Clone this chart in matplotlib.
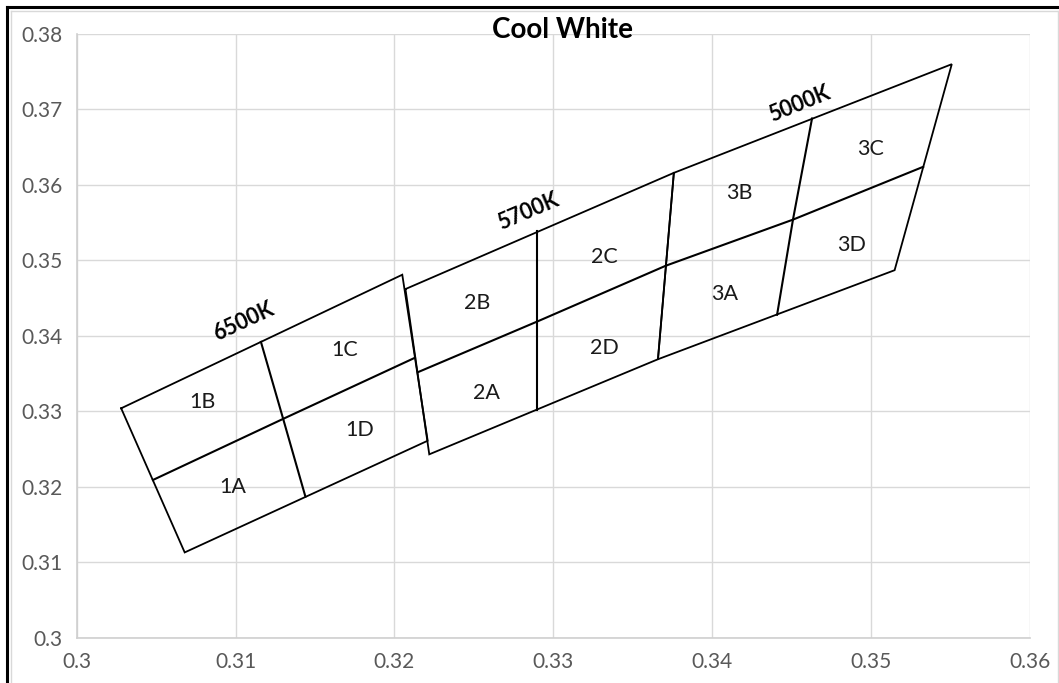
import matplotlib
matplotlib.use("Agg")
import matplotlib.pyplot as plt
from matplotlib.lines import Line2D

plt.rcParams['font.family'] = ['Lato', 'DejaVu Sans']

# ---- data ----
title = "Cool White"
xticks = [0.30, 0.31, 0.32, 0.33, 0.34, 0.35, 0.36]
xtick_labels = ["0.3", "0.31", "0.32", "0.33", "0.34", "0.35", "0.36"]
yticks = [0.30, 0.31, 0.32, 0.33, 0.34, 0.35, 0.36, 0.37, 0.38]
ytick_labels = ["0.3", "0.31", "0.32", "0.33", "0.34", "0.35", "0.36", "0.37", "0.38"]

# outline corners of each CCT quadrangle (TL, TR, BR, BL)
q6500_x = [0.3028, 0.3205, 0.3221, 0.3068]
q6500_y = [0.3304, 0.3481, 0.3261, 0.3113]
q5700_x = [0.3207, 0.3376, 0.3366, 0.3222]
q5700_y = [0.3462, 0.3616, 0.3369, 0.3243]
q5000_x = [0.3376, 0.3551, 0.3515, 0.3366]
q5000_y = [0.3616, 0.3760, 0.3487, 0.3369]

# divider lines (side midpoint -> centre -> opposite side midpoint)
d6500_long_x = [0.3048, 0.3130, 0.3213]
d6500_long_y = [0.3209, 0.3290, 0.3371]
d6500_short_x = [0.3116, 0.3130, 0.3144]
d6500_short_y = [0.3392, 0.3290, 0.3187]
d5700_long_x = [0.3215, 0.3290, 0.3371]
d5700_long_y = [0.3352, 0.3419, 0.3493]
d5700_short_x = [0.3290, 0.3290, 0.3290]
d5700_short_y = [0.3539, 0.3419, 0.3302]
d5000_long_x = [0.3371, 0.3451, 0.3533]
d5000_long_y = [0.3493, 0.3554, 0.3624]
d5000_short_x = [0.3463, 0.3451, 0.3441]
d5000_short_y = [0.3688, 0.3554, 0.3428]

# bin labels
bin_names = ["1B", "1A", "1C", "1D", "2B", "2A", "2C", "2D", "3B", "3A", "3C", "3D"]
bin_x = [0.3079, 0.3098, 0.3169, 0.3178, 0.3252, 0.3258, 0.3332, 0.3332, 0.3417, 0.3408, 0.3500, 0.3488]
bin_y = [0.3313, 0.3200, 0.3381, 0.3275, 0.3443, 0.3324, 0.3505, 0.3384, 0.3589, 0.3455, 0.3648, 0.3521]

# CCT labels
cct_names = ["6500K", "5700K", "5000K"]
cct_x = [0.3105, 0.3284, 0.3455]
cct_y = [0.3419, 0.3565, 0.3708]
cct_rot = [25, 23, 22]

W, H = 1059, 683
fig = plt.figure(figsize=(W / 100, H / 100), dpi=100)
fig.patch.set_facecolor('white')

ax_l, ax_r, ax_t, ax_b = 76.7, 1029.6, 34.0, 637.7
ax = fig.add_axes([ax_l / W, 1 - ax_b / H, (ax_r - ax_l) / W, (ax_b - ax_t) / H])
ax.set_xlim(xticks[0], xticks[-1])
ax.set_ylim(yticks[0], yticks[-1])
ax.set_xticks(xticks)
ax.set_xticklabels(xtick_labels)
ax.set_yticks(yticks)
ax.set_yticklabels(ytick_labels)
ax.grid(True, color='#d9d9d9', lw=1.0)
ax.set_axisbelow(True)
for s in ['top', 'right']:
    ax.spines[s].set_visible(False)
for s in ['left', 'bottom']:
    ax.spines[s].set_color('#cfcfcf')
    ax.spines[s].set_linewidth(1.2)
ax.tick_params(axis='both', length=0, labelsize=15, colors='#595959')
ax.tick_params(axis='x', pad=10)
ax.tick_params(axis='y', pad=10)

lw_out = 1.3
for qx, qy in [(q6500_x, q6500_y), (q5700_x, q5700_y), (q5000_x, q5000_y)]:
    ax.plot(qx + qx[:1], qy + qy[:1], color='black', lw=lw_out, solid_joinstyle='miter')

lw_in = 1.5
for dx, dy in [(d6500_long_x, d6500_long_y), (d6500_short_x, d6500_short_y),
               (d5700_long_x, d5700_long_y), (d5700_short_x, d5700_short_y),
               (d5000_long_x, d5000_long_y), (d5000_short_x, d5000_short_y)]:
    ax.plot(dx, dy, color='black', lw=lw_in)

for n, x, y in zip(bin_names, bin_x, bin_y):
    ax.text(x, y, n, ha='center', va='center', fontsize=15.5, color='#1a1a1a')

for n, x, y, r in zip(cct_names, cct_x, cct_y, cct_rot):
    ax.text(x, y, n, ha='center', va='center', fontsize=15.5, fontweight='bold',
            color='black', rotation=r, rotation_mode='anchor')

fig.text(563 / W, 1 - 30.5 / H, title, ha='center', va='center',
         fontsize=20, fontweight='bold', color='black')

def fline(x0, y0, x1, y1, color, lw):
    fig.add_artist(Line2D([x0 / W, x1 / W], [1 - y0 / H, 1 - y1 / H],
                          transform=fig.transFigure, color=color, lw=lw))

# chart-area border (light grey) and outer black frame
fline(11, 11, 11, H, '#d9d9d9', 1.0)
fline(11, 11, 1058, 11, '#d9d9d9', 1.0)
fline(1058, 11, 1058, H, '#d9d9d9', 1.0)
fline(6.5, 6.5, 6.5, H, 'black', 2.2)
fline(6.5, 6.5, W, 6.5, 'black', 2.2)

fig.savefig('out.png', dpi=100)
